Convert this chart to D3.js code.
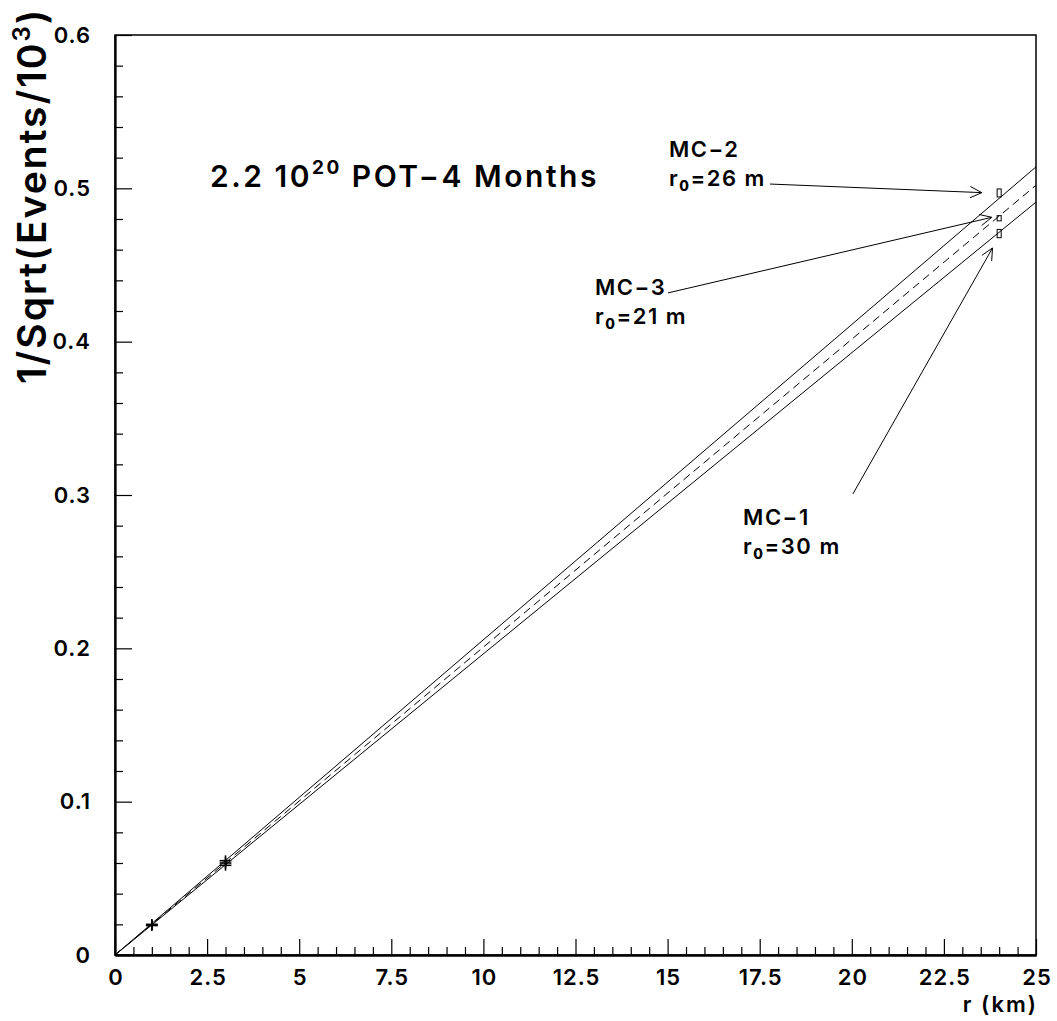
<!DOCTYPE html>
<html>
<head>
<meta charset="utf-8">
<script src="https://cdn.jsdelivr.net/npm/d3@7"></script>
<style>
  html, body { margin: 0; padding: 0; background: #fff; }
  svg { display: block; }
  text { font-family: Inter, "DejaVu Sans", sans-serif; font-weight: 600; fill: #000; }
</style>
</head>
<body>
<svg id="chart" width="1057" height="1021"></svg>
<script>
// ---------------- data ----------------
const xTicks = [0, 2.5, 5, 7.5, 10, 12.5, 15, 17.5, 20, 22.5, 25];
const xTickLabels = ["0", "2.5", "5", "7.5", "10", "12.5", "15", "17.5", "20", "22.5", "25"];
const yTicks = [0, 0.1, 0.2, 0.3, 0.4, 0.5, 0.6];
const yTickLabels = ["0", "0.1", "0.2", "0.3", "0.4", "0.5", "0.6"];

const seriesNames = ["MC-2", "MC-3", "MC-1"];
const seriesR0 = ["26", "21", "30"];
// fitted straight lines (r in km -> 1/sqrt(events/10^3))
const lineR = [0, 25];
const lineMC2 = [0, 0.514];
const lineMC3 = [0, 0.502];
const lineMC1 = [0, 0.491];

// measured points
const pointR = [1, 3];
const pointMC2 = [0.0200, 0.0615];
const pointMC3 = [0.0196, 0.0600];
const pointMC1 = [0.0192, 0.0585];
const pointErr = [0.0035, 0.0035];
const pointRErr = 0.16;

// extrapolated points at r = 24 km (box error bars)
const farR = 24;
const farMC2 = 0.4970;
const farMC3 = 0.4805;
const farMC1 = 0.4705;
const farErr = [0.0026, 0.0017, 0.0027];
const farRErr = 0.055;

// ---------------- layout ----------------
const FONT = "Inter, DejaVu Sans, sans-serif";
const svg = d3.select("#chart");
const x = d3.scaleLinear().domain([0, 25]).range([115, 1036]);
const y = d3.scaleLinear().domain([0, 0.6]).range([955, 35]);

const xMinor = d3.range(0, 25.001, 0.5).filter(v => Math.abs(v / 2.5 - Math.round(v / 2.5)) > 1e-6);
const yMinor = d3.range(0, 0.6001, 0.02).filter(v => Math.abs(v / 0.1 - Math.round(v / 0.1)) > 1e-6);

// frame
svg.append("rect")
  .attr("x", x(0)).attr("y", y(0.6))
  .attr("width", x(25) - x(0)).attr("height", y(0) - y(0.6))
  .attr("fill", "none").attr("stroke", "#000").attr("stroke-width", 1.5);

// axes
const gx = svg.append("g").attr("transform", `translate(0,${y(0)})`)
  .call(d3.axisBottom(x).tickValues(xTicks).tickFormat((d, i) => xTickLabels[i])
    .tickSizeInner(-16).tickSizeOuter(0).tickPadding(14));
const gxm = svg.append("g").attr("transform", `translate(0,${y(0)})`)
  .call(d3.axisBottom(x).tickValues(xMinor).tickFormat("").tickSizeInner(-8).tickSizeOuter(0));
const gy = svg.append("g").attr("transform", `translate(${x(0)},0)`)
  .call(d3.axisLeft(y).tickValues(yTicks).tickFormat((d, i) => yTickLabels[i])
    .tickSizeInner(-17).tickSizeOuter(0).tickPadding(25));
const gym = svg.append("g").attr("transform", `translate(${x(0)},0)`)
  .call(d3.axisLeft(y).tickValues(yMinor).tickFormat("").tickSizeInner(-8).tickSizeOuter(0));

[gx, gxm, gy, gym].forEach(g => {
  g.select(".domain").attr("stroke", "#000").attr("stroke-width", 1.8);
  g.selectAll(".tick line").attr("stroke", "#000").attr("stroke-width", 1.2);
  g.selectAll(".tick text").attr("font-family", FONT)
    .attr("font-weight", 600).attr("font-size", 22).attr("letter-spacing", 1).attr("fill", "#000");
});
gx.selectAll(".tick text").attr("dx", 0.5);
gy.selectAll(".tick text").attr("dx", 1);

// axis titles
svg.append("text")
  .attr("x", x(25) + 2).attr("y", 1012)
  .attr("text-anchor", "end").attr("font-size", 22).attr("letter-spacing", 2)
  .text("r (km)");

const yt = svg.append("text")
  .attr("transform", `translate(46,384) rotate(-90)`)
  .attr("text-anchor", "start").attr("font-size", 39).attr("letter-spacing", 2);
yt.append("tspan").text("1/Sqrt(Events/10");
yt.append("tspan").attr("font-size", 24).attr("dy", -16).text("3");
yt.append("tspan").attr("dy", 16).text(")");

// title
const tt = svg.append("text")
  .attr("x", x(2.58)).attr("y", y(0.5009))
  .attr("font-size", 30).attr("letter-spacing", 2.5);
tt.append("tspan").text("2.2 10");
tt.append("tspan").attr("font-size", 19).attr("font-weight", 700).attr("dy", -13).text("20");
tt.append("tspan").attr("dy", 13).text(" POT\u22124 Months");

// lines
const lineData = [
  { vals: lineMC2, dash: null },
  { vals: lineMC3, dash: "8,5" },
  { vals: lineMC1, dash: null }
];
const lineGen = d3.line().x(d => x(d[0])).y(d => y(d[1]));
svg.append("g").selectAll("path").data(lineData).join("path")
  .attr("d", d => lineGen(lineR.map((r, i) => [r, d.vals[i]])))
  .attr("fill", "none").attr("stroke", "#000").attr("stroke-width", 1)
  .attr("stroke-dasharray", d => d.dash);

// measured crosses
const pts = [];
[pointMC2, pointMC3, pointMC1].forEach(arr => arr.forEach((v, i) => pts.push({ r: pointR[i], v, e: pointErr[i] })));
const pg = svg.append("g").attr("stroke", "#000").attr("stroke-width", 1.6);
pg.selectAll("line.h").data(pts).join("line").attr("class", "h")
  .attr("x1", d => x(d.r - pointRErr)).attr("x2", d => x(d.r + pointRErr))
  .attr("y1", d => y(d.v)).attr("y2", d => y(d.v));
pg.selectAll("line.v").data(pts).join("line").attr("class", "v")
  .attr("x1", d => x(d.r)).attr("x2", d => x(d.r))
  .attr("y1", d => y(d.v - d.e)).attr("y2", d => y(d.v + d.e));

// far boxes
const far = [farMC2, farMC3, farMC1].map((v, i) => ({ v, e: farErr[i] }));
svg.append("g").selectAll("rect").data(far).join("rect")
  .attr("x", x(farR - farRErr)).attr("width", x(farR + farRErr) - x(farR - farRErr))
  .attr("y", d => y(d.v + d.e)).attr("height", d => y(d.v - d.e) - y(d.v + d.e))
  .attr("fill", "none").attr("stroke", "#000").attr("stroke-width", 1);

// annotations (data units)
const annText = [[15.04, 0.5204], [13.03, 0.4304], [17.05, 0.2804]];
const annFrom = [[17.78, 0.5028], [15.01, 0.4318], [20.03, 0.3007]];
const annTo = [[23.53, 0.4972], [23.80, 0.4811], [23.82, 0.4611]];

const ag = svg.append("g");
seriesNames.forEach((name, i) => {
  const tx = x(annText[i][0]), ty = y(annText[i][1]);
  ag.append("text").attr("x", tx).attr("y", ty).attr("font-size", 22).attr("letter-spacing", 1.5)
    .text(name.replace("-", "\u2212"));
  const t2 = ag.append("text").attr("x", tx).attr("y", ty + 29).attr("font-size", 22).attr("letter-spacing", 1.5);
  t2.append("tspan").text("r");
  t2.append("tspan").attr("font-size", 14).attr("font-weight", 800).attr("dy", 5).text("0");
  t2.append("tspan").attr("dy", -5).text("=" + seriesR0[i] + " m");

  const x1 = x(annFrom[i][0]), y1 = y(annFrom[i][1]);
  const x2 = x(annTo[i][0]), y2 = y(annTo[i][1]);
  ag.append("line").attr("x1", x1).attr("y1", y1).attr("x2", x2).attr("y2", y2)
    .attr("stroke", "#000").attr("stroke-width", 1);
  const ang = Math.atan2(y2 - y1, x2 - x1);
  const L = 13, a = 0.45;
  const p = [
    [x2 - L * Math.cos(ang - a), y2 - L * Math.sin(ang - a)],
    [x2, y2],
    [x2 - L * Math.cos(ang + a), y2 - L * Math.sin(ang + a)]
  ];
  ag.append("path").attr("d", d3.line()(p)).attr("fill", "none")
    .attr("stroke", "#000").attr("stroke-width", 1);
});
</script>
</body>
</html>
